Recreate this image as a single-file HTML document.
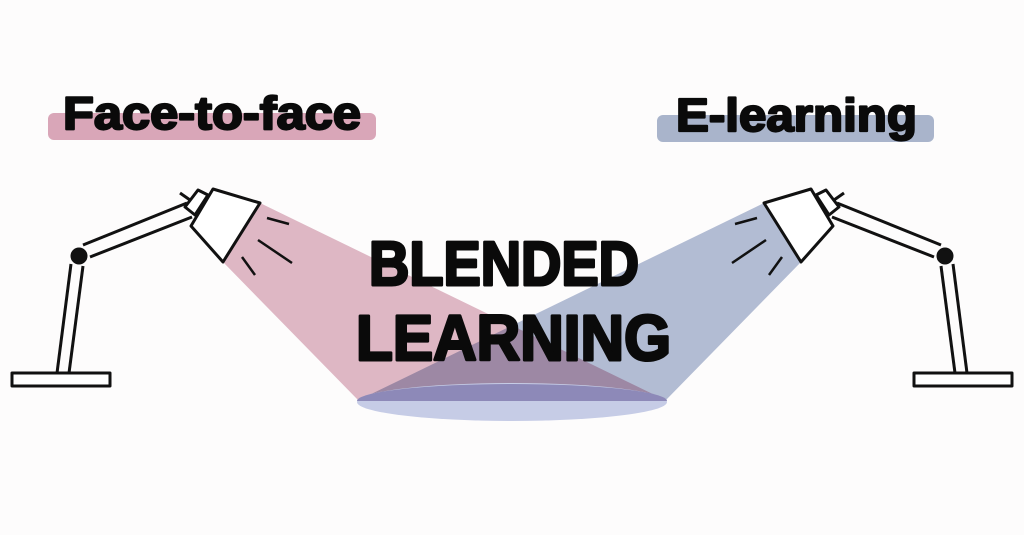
<!DOCTYPE html>
<html><head><style>
html,body{margin:0;padding:0;background:#fdfcfc;}
svg{display:block}
text{font-family:"Liberation Sans",sans-serif;font-weight:bold;fill:#0a0a0a;stroke:#0a0a0a;stroke-linejoin:round}
</style></head><body>
<svg width="1024" height="535" viewBox="0 0 1024 535" xmlns="http://www.w3.org/2000/svg">
<rect width="1024" height="535" fill="#fdfcfc"/>
<rect x="48" y="113" width="328" height="27" rx="6" fill="#d9a6b8"/>
<rect x="657" y="115" width="277" height="27" rx="6" fill="#a9b4cb"/>
<text x="63" y="129" font-size="46" stroke-width="2.2" textLength="298" lengthAdjust="spacingAndGlyphs">Face-to-face</text>
<text x="676" y="131" font-size="46" stroke-width="2.2" textLength="241" lengthAdjust="spacingAndGlyphs">E-learning</text>

<g style="mix-blend-mode:multiply">
<polygon points="260,203 223,262 358,400 665,400" fill="#e0b9c7"/>
</g>
<g style="mix-blend-mode:multiply">
<polygon points="764,203 801,262 666,400 359,400" fill="#b4bed6"/>
</g>
<ellipse cx="512" cy="402" rx="155" ry="19" fill="#c6cce6"/>
<path d="M357,401 A155,17 0 0 1 667,401 Z" fill="#8d89b8"/>

<g fill="#fff" stroke="#111" stroke-width="3" stroke-linejoin="round">
<rect x="12" y="373" width="98" height="13"/>
<line x1="57" y1="373" x2="71" y2="264"/>
<line x1="69" y1="373" x2="83" y2="266"/>
<line x1="83" y1="245" x2="187" y2="203"/>
<line x1="90" y1="257" x2="192" y2="217"/>
<circle cx="79" cy="256" r="7" fill="#111"/>
<line x1="180" y1="193" x2="190" y2="200"/>
<polygon points="185,207 198,190 208,195 195,215"/>
<polygon points="213,189 260,203 223,262 191,226"/>
<line x1="267" y1="218" x2="289" y2="224" stroke-width="2.5"/>
<line x1="258" y1="240" x2="292" y2="263" stroke-width="2.5"/>
<line x1="242" y1="257" x2="255" y2="275" stroke-width="2.5"/>
</g>
<g transform="translate(1024,0) scale(-1,1)" fill="#fff" stroke="#111" stroke-width="3" stroke-linejoin="round">
<rect x="12" y="373" width="98" height="13"/>
<line x1="57" y1="373" x2="71" y2="264"/>
<line x1="69" y1="373" x2="83" y2="266"/>
<line x1="83" y1="245" x2="187" y2="203"/>
<line x1="90" y1="257" x2="192" y2="217"/>
<circle cx="79" cy="256" r="7" fill="#111"/>
<line x1="180" y1="193" x2="190" y2="200"/>
<polygon points="185,207 198,190 208,195 195,215"/>
<polygon points="213,189 260,203 223,262 191,226"/>
<line x1="267" y1="218" x2="289" y2="224" stroke-width="2.5"/>
<line x1="258" y1="240" x2="292" y2="263" stroke-width="2.5"/>
<line x1="242" y1="257" x2="255" y2="275" stroke-width="2.5"/>
</g>

<text x="369" y="285" font-size="62" stroke-width="3" textLength="270" lengthAdjust="spacingAndGlyphs">BLENDED</text>
<text x="356" y="360" font-size="64" stroke-width="3" textLength="315" lengthAdjust="spacingAndGlyphs">LEARNING</text>
</svg>
</body></html>
